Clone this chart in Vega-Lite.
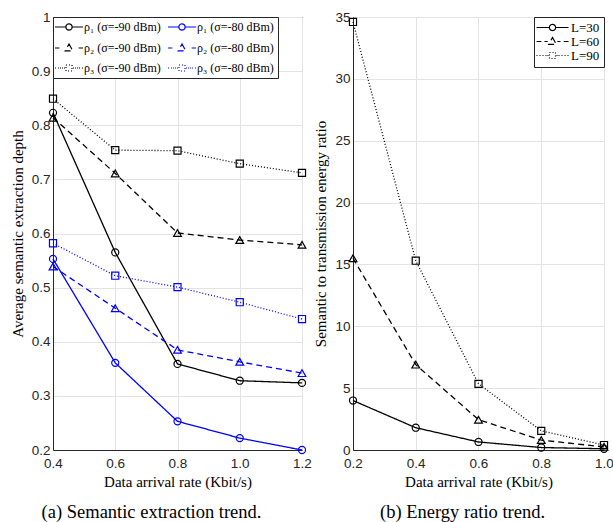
{
  "$schema": "https://vega.github.io/schema/vega-lite/v6.json",
  "background": "white",
  "padding": {"left": 9, "top": 9, "right": 2, "bottom": 2},
  "spacing": 1,
  "resolve": {
    "scale": {"color": "independent", "shape": "independent", "strokeDash": "independent", "x": "independent", "y": "independent"},
    "legend": {"color": "independent", "shape": "independent", "strokeDash": "independent"}
  },
  "config": {
    "view": {"stroke": "#262626", "strokeWidth": 1},
    "axis": {
      "labelFont": "Liberation Sans", "labelFontSize": 13.5, "labelColor": "#262626", "labelFlush": false,
      "titleFont": "Liberation Serif", "titleFontSize": 15, "titleFontWeight": "normal", "titleColor": "#000000",
      "gridColor": "#e3e3e3", "gridWidth": 1, "domainColor": "#262626", "ticks": false, "labelPadding": 4
    },
    "axisX": {"titlePadding": 5, "labelPadding": 6},
    "axisY": {"titlePadding": 6, "labelPadding": 3},
    "title": {"font": "Liberation Serif", "fontSize": 18.5, "fontWeight": "normal", "orient": "bottom", "anchor": "middle", "color": "#000000"}
  },
  "hconcat": [
    {
      "width": 249,
      "height": 433,
      "title": {"text": "(a) Semantic extraction trend.", "offset": 13, "dx": -26},
      "data": {"values": [
        {"x": 0.4, "y": 0.823, "k": 1, "s": "ρ₁ (σ=-90 dBm)"},
        {"x": 0.6, "y": 0.565, "k": 1, "s": "ρ₁ (σ=-90 dBm)"},
        {"x": 0.8, "y": 0.359, "k": 1, "s": "ρ₁ (σ=-90 dBm)"},
        {"x": 1.0, "y": 0.328, "k": 1, "s": "ρ₁ (σ=-90 dBm)"},
        {"x": 1.2, "y": 0.324, "k": 1, "s": "ρ₁ (σ=-90 dBm)"},
        {"x": 0.4, "y": 0.553, "k": 1, "s": "ρ₁ (σ=-80 dBm)"},
        {"x": 0.6, "y": 0.361, "k": 1, "s": "ρ₁ (σ=-80 dBm)"},
        {"x": 0.8, "y": 0.253, "k": 1, "s": "ρ₁ (σ=-80 dBm)"},
        {"x": 1.0, "y": 0.222, "k": 1, "s": "ρ₁ (σ=-80 dBm)"},
        {"x": 1.2, "y": 0.200, "k": 1, "s": "ρ₁ (σ=-80 dBm)"},
        {"x": 0.4, "y": 0.814, "k": 2, "s": "ρ₂ (σ=-90 dBm)"},
        {"x": 0.6, "y": 0.711, "k": 2, "s": "ρ₂ (σ=-90 dBm)"},
        {"x": 0.8, "y": 0.601, "k": 2, "s": "ρ₂ (σ=-90 dBm)"},
        {"x": 1.0, "y": 0.588, "k": 2, "s": "ρ₂ (σ=-90 dBm)"},
        {"x": 1.2, "y": 0.579, "k": 2, "s": "ρ₂ (σ=-90 dBm)"},
        {"x": 0.4, "y": 0.539, "k": 2, "s": "ρ₂ (σ=-80 dBm)"},
        {"x": 0.6, "y": 0.462, "k": 2, "s": "ρ₂ (σ=-80 dBm)"},
        {"x": 0.8, "y": 0.385, "k": 2, "s": "ρ₂ (σ=-80 dBm)"},
        {"x": 1.0, "y": 0.363, "k": 2, "s": "ρ₂ (σ=-80 dBm)"},
        {"x": 1.2, "y": 0.342, "k": 2, "s": "ρ₂ (σ=-80 dBm)"},
        {"x": 0.4, "y": 0.849, "k": 3, "s": "ρ₃ (σ=-90 dBm)"},
        {"x": 0.6, "y": 0.754, "k": 3, "s": "ρ₃ (σ=-90 dBm)"},
        {"x": 0.8, "y": 0.753, "k": 3, "s": "ρ₃ (σ=-90 dBm)"},
        {"x": 1.0, "y": 0.729, "k": 3, "s": "ρ₃ (σ=-90 dBm)"},
        {"x": 1.2, "y": 0.712, "k": 3, "s": "ρ₃ (σ=-90 dBm)"},
        {"x": 0.4, "y": 0.582, "k": 3, "s": "ρ₃ (σ=-80 dBm)"},
        {"x": 0.6, "y": 0.522, "k": 3, "s": "ρ₃ (σ=-80 dBm)"},
        {"x": 0.8, "y": 0.501, "k": 3, "s": "ρ₃ (σ=-80 dBm)"},
        {"x": 1.0, "y": 0.473, "k": 3, "s": "ρ₃ (σ=-80 dBm)"},
        {"x": 1.2, "y": 0.442, "k": 3, "s": "ρ₃ (σ=-80 dBm)"}
      ]},
      "encoding": {
        "x": {"field": "x", "type": "quantitative", "scale": {"domain": [0.4, 1.2], "nice": false, "zero": false},
              "axis": {"values": [0.4, 0.6, 0.8, 1.0, 1.2], "format": ".1f", "title": "Data arrival rate (Kbit/s)"}},
        "y": {"field": "y", "type": "quantitative", "scale": {"domain": [0.2, 1.0], "nice": false, "zero": false},
              "axis": {"values": [0.2, 0.3, 0.4, 0.5, 0.6, 0.7, 0.8, 0.9, 1.0], "format": "~g", "title": "Average semantic extraction depth"}},
        "color": {"field": "s", "type": "nominal", "title": null,
                  "scale": {"domain": ["ρ₁ (σ=-90 dBm)", "ρ₂ (σ=-90 dBm)", "ρ₃ (σ=-90 dBm)", "ρ₁ (σ=-80 dBm)", "ρ₂ (σ=-80 dBm)", "ρ₃ (σ=-80 dBm)"],
                            "range": ["#000000", "#000000", "#000000", "#0000ff", "#0000ff", "#0000ff"]},
                  "legend": {"orient": "top-left", "offset": 0, "columns": 2, "columnPadding": 4, "rowPadding": 8, "padding": 4,
                             "strokeColor": "#262626", "fillColor": "white", "symbolSize": 64, "symbolStrokeWidth": 1.2,
                             "symbolOffset": 6, "labelOffset": 9, "labelFont": "Liberation Serif", "labelFontSize": 12,
                             "labelColor": "#000000", "symbolOpacity": 1, "labelLimit": 0}}
      },
      "layer": [
        {
          "mark": {"type": "line", "strokeWidth": 1.3},
          "encoding": {
            "strokeDash": {"field": "s", "type": "nominal", "legend": null,
                           "scale": {"domain": ["ρ₁ (σ=-90 dBm)", "ρ₂ (σ=-90 dBm)", "ρ₃ (σ=-90 dBm)", "ρ₁ (σ=-80 dBm)", "ρ₂ (σ=-80 dBm)", "ρ₃ (σ=-80 dBm)"],
                                     "range": [[1, 0], [6, 4], [1, 2], [1, 0], [6, 4], [1, 2]]}}
          }
        },
        {
          "transform": [{"filter": "datum.k == 1"}],
          "mark": {"type": "point", "shape": "circle", "filled": false, "size": 50, "opacity": 1, "strokeWidth": 1.2},
          "encoding": {}
        },
        {
          "transform": [{"filter": "datum.k == 2"}],
          "mark": {"type": "point", "shape": "triangle-up", "filled": false, "size": 60, "opacity": 1, "strokeWidth": 1.2},
          "encoding": {}
        },
        {
          "transform": [{"filter": "datum.k == 3"}],
          "mark": {"type": "point", "shape": "square", "filled": false, "size": 50, "opacity": 1, "strokeWidth": 1.2},
          "encoding": {}
        },
        {
          "transform": [{"filter": "datum.x > 99"}],
          "mark": {"type": "point", "filled": false, "opacity": 1, "strokeWidth": 1.2},
          "encoding": {
            "shape": {"field": "s", "type": "nominal", "title": null,
                      "scale": {"domain": ["ρ₁ (σ=-90 dBm)", "ρ₂ (σ=-90 dBm)", "ρ₃ (σ=-90 dBm)", "ρ₁ (σ=-80 dBm)", "ρ₂ (σ=-80 dBm)", "ρ₃ (σ=-80 dBm)"],
                                "range": [
                                  "M-3.5,0L-0.8,0M0.8,0L3.5,0M0.8,0L0.693,0.4L0.4,0.693L0,0.8L-0.4,0.693L-0.693,0.4L-0.8,0L-0.693,-0.4L-0.4,-0.693L0,-0.8L0.4,-0.693L0.693,-0.4Z",
                                  "M-3.5,0L-2.4,0M2.4,0L3.5,0M0,-1L0.95,0.7L-0.95,0.7Z",
                                  "M-3.5,0L-3.25,0M-2.75,0L-2.5,0M-2.25,0L-2,0M-1.75,0L-1.5,0M-1.25,0L-1,0M1,0L1.25,0M1.5,0L1.75,0M2,0L2.25,0M2.5,0L2.75,0M3.25,0L3.5,0M-0.75,-0.75L0.75,-0.75L0.75,0.75L-0.75,0.75Z",
                                  "M-3.5,0L-0.8,0M0.8,0L3.5,0M0.8,0L0.693,0.4L0.4,0.693L0,0.8L-0.4,0.693L-0.693,0.4L-0.8,0L-0.693,-0.4L-0.4,-0.693L0,-0.8L0.4,-0.693L0.693,-0.4Z",
                                  "M-3.5,0L-2.4,0M2.4,0L3.5,0M0,-1L0.95,0.7L-0.95,0.7Z",
                                  "M-3.5,0L-3.25,0M-2.75,0L-2.5,0M-2.25,0L-2,0M-1.75,0L-1.5,0M-1.25,0L-1,0M1,0L1.25,0M1.5,0L1.75,0M2,0L2.25,0M2.5,0L2.75,0M3.25,0L3.5,0M-0.75,-0.75L0.75,-0.75L0.75,0.75L-0.75,0.75Z"
                                ]},
                      "legend": {"orient": "top-left", "offset": 0, "columns": 2, "columnPadding": 4, "rowPadding": 8, "padding": 4,
                                 "strokeColor": "#262626", "fillColor": "white", "symbolSize": 64, "symbolStrokeWidth": 1.2,
                                 "symbolOffset": 6, "labelOffset": 9, "labelFont": "Liberation Serif", "labelFontSize": 12,
                                 "labelColor": "#000000", "symbolOpacity": 1, "labelLimit": 0}}
          }
        }
      ]
    },
    {
      "width": 251,
      "height": 433,
      "title": {"text": "(b) Energy ratio trend.", "offset": 13, "dx": -16},
      "data": {"values": [
        {"x": 0.2, "y": 4.0, "k": 1, "s": "L=30"},
        {"x": 0.4, "y": 1.8, "k": 1, "s": "L=30"},
        {"x": 0.6, "y": 0.65, "k": 1, "s": "L=30"},
        {"x": 0.8, "y": 0.2, "k": 1, "s": "L=30"},
        {"x": 1.0, "y": 0.1, "k": 1, "s": "L=30"},
        {"x": 0.2, "y": 15.5, "k": 2, "s": "L=60"},
        {"x": 0.4, "y": 6.9, "k": 2, "s": "L=60"},
        {"x": 0.6, "y": 2.45, "k": 2, "s": "L=60"},
        {"x": 0.8, "y": 0.8, "k": 2, "s": "L=60"},
        {"x": 1.0, "y": 0.25, "k": 2, "s": "L=60"},
        {"x": 0.2, "y": 34.6, "k": 3, "s": "L=90"},
        {"x": 0.4, "y": 15.3, "k": 3, "s": "L=90"},
        {"x": 0.6, "y": 5.35, "k": 3, "s": "L=90"},
        {"x": 0.8, "y": 1.55, "k": 3, "s": "L=90"},
        {"x": 1.0, "y": 0.4, "k": 3, "s": "L=90"}
      ]},
      "encoding": {
        "x": {"field": "x", "type": "quantitative", "scale": {"domain": [0.2, 1.0], "nice": false, "zero": false},
              "axis": {"values": [0.2, 0.4, 0.6, 0.8, 1.0], "format": ".1f", "title": "Data arrival rate (Kbit/s)"}},
        "y": {"field": "y", "type": "quantitative", "scale": {"domain": [0, 35], "nice": false},
              "axis": {"values": [0, 5, 10, 15, 20, 25, 30, 35], "title": "Semantic to transmission energy ratio"}},
        "color": {"field": "s", "type": "nominal", "title": null,
                  "scale": {"domain": ["L=30", "L=60", "L=90"], "range": ["#000000", "#000000", "#000000"]},
                  "legend": {"orient": "top-right", "offset": 0, "rowPadding": 0, "padding": 4,
                             "strokeColor": "#262626", "fillColor": "white", "symbolSize": 64, "symbolStrokeWidth": 1.2,
                             "symbolOffset": 8, "labelOffset": 12, "labelFont": "Liberation Serif", "labelFontSize": 13,
                             "labelColor": "#000000", "symbolOpacity": 1, "labelLimit": 0}}
      },
      "layer": [
        {
          "mark": {"type": "line", "strokeWidth": 1.3},
          "encoding": {
            "strokeDash": {"field": "s", "type": "nominal", "legend": null,
                           "scale": {"domain": ["L=30", "L=60", "L=90"], "range": [[1, 0], [6, 4], [1, 2]]}}
          }
        },
        {
          "transform": [{"filter": "datum.k == 1"}],
          "mark": {"type": "point", "shape": "circle", "filled": false, "size": 50, "opacity": 1, "strokeWidth": 1.2},
          "encoding": {}
        },
        {
          "transform": [{"filter": "datum.k == 2"}],
          "mark": {"type": "point", "shape": "triangle-up", "filled": false, "size": 60, "opacity": 1, "strokeWidth": 1.2},
          "encoding": {}
        },
        {
          "transform": [{"filter": "datum.k == 3"}],
          "mark": {"type": "point", "shape": "square", "filled": false, "size": 50, "opacity": 1, "strokeWidth": 1.2},
          "encoding": {}
        },
        {
          "transform": [{"filter": "datum.x > 99"}],
          "mark": {"type": "point", "filled": false, "opacity": 1, "strokeWidth": 1.2},
          "encoding": {
            "shape": {"field": "s", "type": "nominal", "title": null,
                      "scale": {"domain": ["L=30", "L=60", "L=90"],
                                "range": [
                                  "M-4,0L-0.8,0M0.8,0L4,0M0.8,0L0.693,0.4L0.4,0.693L0,0.8L-0.4,0.693L-0.693,0.4L-0.8,0L-0.693,-0.4L-0.4,-0.693L0,-0.8L0.4,-0.693L0.693,-0.4Z",
                                  "M-4,0L-2.8,0M-2,0L-1.2,0M1.2,0L2,0M2.8,0L4,0M0,-1L0.95,0.7L-0.95,0.7Z",
                                  "M-4,0L-3.75,0M-3.25,0L-3,0M-2.5,0L-2.25,0M-1.75,0L-1.5,0M-1.25,0L-1,0M1,0L1.25,0M1.5,0L1.75,0M2.25,0L2.5,0M3,0L3.25,0M3.75,0L4,0M-0.75,-0.75L0.75,-0.75L0.75,0.75L-0.75,0.75Z"
                                ]},
                      "legend": {"orient": "top-right", "offset": 0, "rowPadding": 0, "padding": 4,
                                 "strokeColor": "#262626", "fillColor": "white", "symbolSize": 64, "symbolStrokeWidth": 1.2,
                                 "symbolOffset": 8, "labelOffset": 12, "labelFont": "Liberation Serif", "labelFontSize": 13,
                                 "labelColor": "#000000", "symbolOpacity": 1, "labelLimit": 0}}
          }
        }
      ]
    }
  ]
}
